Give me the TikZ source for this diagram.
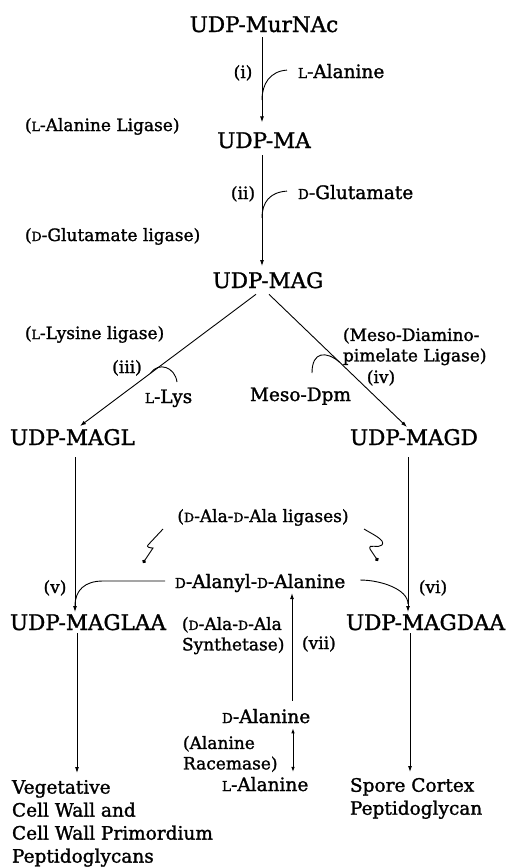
\documentclass[tikz,border=0pt]{standalone}
\usepackage{fontspec}
\setmainfont[FakeBold=1.4]{DejaVu Serif}
\usetikzlibrary{arrows.meta,calc}
% reduced capital used as a small-cap configuration prefix (L-, D-)
\newcommand\sml[1]{\scalebox{0.74}{#1}}
\begin{document}
\begin{tikzpicture}[x=1pt,y=-1pt,
  every node/.style={inner sep=0pt,outer sep=0pt},
  cmpd/.style={font=\fontsize{21.5}{24}\selectfont},
  reag/.style={font=\fontsize{18.5}{23}\selectfont, align=left},
  enz/.style={font=\fontsize{17}{20.5}\selectfont, align=left},
  stepno/.style={font=\fontsize{17}{20}\selectfont},
  ln/.style={line width=0.9pt},
  arr/.style={ln,-{Latex[length=6pt,width=4pt]}},
  both/.style={ln,{Latex[length=5pt,width=3.5pt]}-{Latex[length=5pt,width=3.5pt]}},
  dotend/.style={ln,-{Circle[length=3.8pt]}},
]
\useasboundingbox (0,0) rectangle (507,868);

% ---- main chain ----
\node[cmpd, anchor=base] (murnac) at (264,32) {UDP-MurNAc};
\node[stepno, anchor=base] (s1) at (243,78) {(i)};
\node[reag, anchor=base west] (lala) at (298,78) {\sml{L}-Alanine};
\node[enz, anchor=base west] (e1) at (25,131) {(\sml{L}-Alanine Ligase)};
\node[cmpd, anchor=base] (ma) at (264,148) {UDP-MA};
\node[stepno, anchor=base] (s2) at (243,199) {(ii)};
\node[reag, anchor=base west] (dglu) at (298,199) {\sml{D}-Glutamate};
\node[enz, anchor=base west] (e2) at (25,241) {(\sml{D}-Glutamate ligase)};
\node[cmpd, anchor=base] (mag) at (268,288) {UDP-MAG};

% ---- branch point ----
\node[enz, anchor=base west] (e3) at (25,339) {(\sml{L}-Lysine ligase)};
\node[enz, anchor=north west] (e4) at (343,328) {(Meso-Diamino-\\pimelate Ligase)};
\node[stepno, anchor=base] (s3) at (127,373) {(iii)};
\node[stepno, anchor=base] (s4) at (381,383) {(iv)};
\node[reag, anchor=base west] (llys) at (145,403) {\sml{L}-Lys};
\node[reag, anchor=base west] (dpm) at (250,401) {Meso-Dpm};
\node[cmpd, anchor=base west] (magl) at (10,445) {UDP-MAGL};
\node[cmpd, anchor=base west] (magd) at (350,445) {UDP-MAGD};

% ---- dipeptide addition ----
\node[enz, anchor=base] (lig) at (263,522) {(\sml{D}-Ala-\sml{D}-Ala ligases)};
\node[reag, anchor=base west] (daa) at (175,588) {\sml{D}-Alanyl-\sml{D}-Alanine};
\node[stepno, anchor=base] (s5) at (55,593) {(v)};
\node[stepno, anchor=base] (s6) at (433,593) {(vi)};
\node[cmpd, anchor=base west] (maglaa) at (10,630) {UDP-MAGLAA};
\node[cmpd, anchor=base east] (magdaa) at (505,630) {UDP-MAGDAA};
\node[enz, anchor=north west] (syn) at (182,617) {(\sml{D}-Ala-\sml{D}-Ala\\Synthetase)};
\node[stepno, anchor=base west] (s7) at (302,649) {(vii)};
\node[reag, anchor=base west] (dala) at (222,723) {\sml{D}-Alanine};
\node[enz, anchor=north west] (rac) at (183,736) {(Alanine\\Racemase)};
\node[reag, anchor=base west] (lala2) at (222,791) {\sml{L}-Alanine};

% ---- end products ----
\node[reag, anchor=north west] (veg) at (12,780) {Vegetative\\Cell Wall and\\Cell Wall Primordium\\Peptidoglycans};
\node[reag, anchor=north west] (spore) at (350,778) {Spore Cortex\\Peptidoglycan};

% ---- reaction arrows ----
\draw[arr] ($(murnac.south)+(-2,5)$) -- ($(ma.north)+(-2,-10)$);
\draw[arr] ($(ma.south)+(-2,7)$) -- ($(mag.north)+(-6,-6)$);
\path ($(mag.south)+(-12,6)$) coordinate (dLs) ($(magl.north west)+(70,-3)$) coordinate (dLe);
\path ($(mag.south)+(1,6)$) coordinate (dRs) ($(magd.north west)+(57,-2)$) coordinate (dRe);
\draw[arr] (dLs) -- (dLe);
\draw[arr] (dRs) -- (dRe);
\draw[arr] ($(magl.south west)+(65,12)$) -- ($(maglaa.north west)+(65,-2)$);
\draw[arr] ($(magd.south west)+(58,12)$) -- ($(magdaa.north east)+(-97,-2)$);
\draw[arr] ($(maglaa.south west)+(67,3)$) -- ($(veg.north west)+(65,-7)$);
\draw[arr] ($(magdaa.south east)+(-95,3)$) -- ($(spore.north west)+(60,-6)$);
\draw[arr] ($(dala.north west)+(70,-8)$) -- ($(daa.south west)+(117,1)$);
\draw[both] ($(dala.south west)+(71,5)$) -- ($(lala2.north west)+(71,-5)$);

% ---- co-substrate hooks ----
\coordinate (j1) at (262,100);
\coordinate (j2) at (262,218);
\draw[ln] ($(lala.west)+(-11,-1)$) .. controls +(-17,1) and +(0,-16) .. (j1);
\draw[ln] ($(dglu.west)+(-11,-1)$) .. controls +(-17,1) and +(0,-16) .. (j2);

\coordinate (h3) at ($(dLs)!0.60!(dLe)$);
\coordinate (k3) at (177,382);
\draw[ln] (h3) .. controls +(8,-12) and +(-2,-15) .. (k3);
\coordinate (h4) at ($(dRs)!0.51!(dRe)$);
\coordinate (k4) at (312,373);
\draw[ln] (k4) .. controls +(0,-22) and +(-13,-11) .. (h4);

\coordinate (j5) at (75,606);
\coordinate (j6) at (408,604);
\draw[ln] ($(daa.west)+(-10,-2)$) -- (103,581) .. controls (85,581) and (75,590) .. (j5);
\draw[ln] ($(daa.east)+(15,-3)$) .. controls +(20,0) and +(0,-15) .. (j6);

% ---- ligase squiggles ----
\draw[dotend] ($(lig.base)+(-100,7)$) -- (148,545) .. controls (146,547) and (150,548) .. (153,548) -- (143,563);
\draw[dotend] ($(lig.base)+(101,7)$) .. controls (372,534) and (386,540) .. (382,545)
   .. controls (378,549) and (368,543) .. (370,549) -- (378,561);
\end{tikzpicture}
\end{document}
